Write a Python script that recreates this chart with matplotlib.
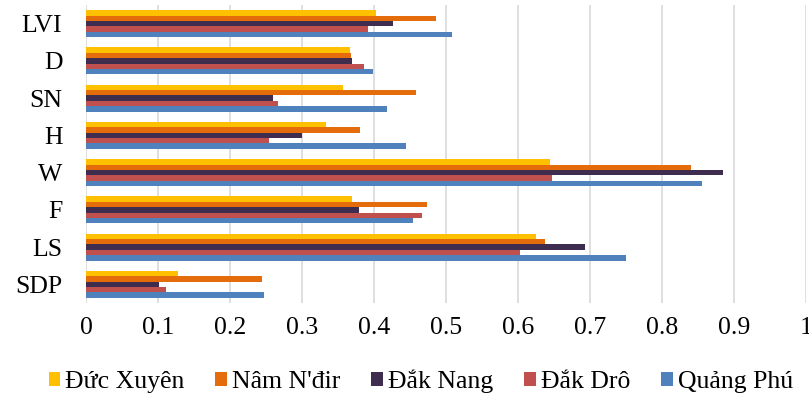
import matplotlib
matplotlib.use("Agg")
import matplotlib.pyplot as plt
import numpy as np

categories = ["LVI", "D", "SN", "H", "W", "F", "LS", "SDP"]
series_names = ["Đức Xuyên", "Nâm N'đir", "Đắk Nang", "Đắk Drô", "Quảng Phú"]
duc_xuyen = [0.403, 0.366, 0.357, 0.333, 0.645, 0.370, 0.625, 0.128]
nam_ndir = [0.486, 0.368, 0.458, 0.381, 0.840, 0.473, 0.638, 0.245]
dak_nang = [0.427, 0.370, 0.260, 0.300, 0.885, 0.379, 0.693, 0.102]
dak_dro = [0.392, 0.386, 0.267, 0.254, 0.647, 0.467, 0.603, 0.111]
quang_phu = [0.509, 0.399, 0.418, 0.445, 0.856, 0.454, 0.750, 0.247]
x_ticks = [0, 0.1, 0.2, 0.3, 0.4, 0.5, 0.6, 0.7, 0.8, 0.9, 1]
x_tick_labels = ["0", "0.1", "0.2", "0.3", "0.4", "0.5", "0.6", "0.7", "0.8", "0.9", "1"]

colors = ["#FFC000", "#E46C0A", "#3F2D4F", "#C0504D", "#4F81BD"]
all_series = [duc_xuyen, nam_ndir, dak_nang, dak_dro, quang_phu]

fig = plt.figure(figsize=(8.09, 4.09), dpi=100)
ax = fig.add_axes([86/809, 1 - 303/409, 720/809, 298/409])

font = "Liberation Serif"
n = len(categories)
y = np.arange(n)
bh = 0.145
for i, (vals, name, c) in enumerate(zip(all_series, series_names, colors)):
    offs = (i - 2) * bh
    ax.barh(y + offs, vals, height=bh, color=c, label=name, zorder=3)

ax.set_ylim(n - 0.5, -0.5)
ax.set_xlim(0, 1)
ax.set_yticks(y)
ax.set_yticklabels(categories, fontfamily=font, fontsize=18.5)
ax.set_xticks(x_ticks)
ax.set_xticklabels(x_tick_labels, fontfamily=font, fontsize=18.5)
ax.tick_params(axis="both", length=0)
ax.tick_params(axis="x", pad=10)
ax.tick_params(axis="y", pad=17)
ax.grid(axis="x", color="#D9D9D9", linewidth=1.2, zorder=0)
for s in ax.spines.values():
    s.set_visible(False)

leg = fig.legend(loc="center", bbox_to_anchor=(0.52, 1 - 381/409), ncol=5,
                 frameon=False, prop={"family": font, "size": 18.5},
                 handlelength=0.45, handleheight=0.45, handletextpad=0.2,
                 columnspacing=1.2)

fig.savefig("out.png", dpi=100)
